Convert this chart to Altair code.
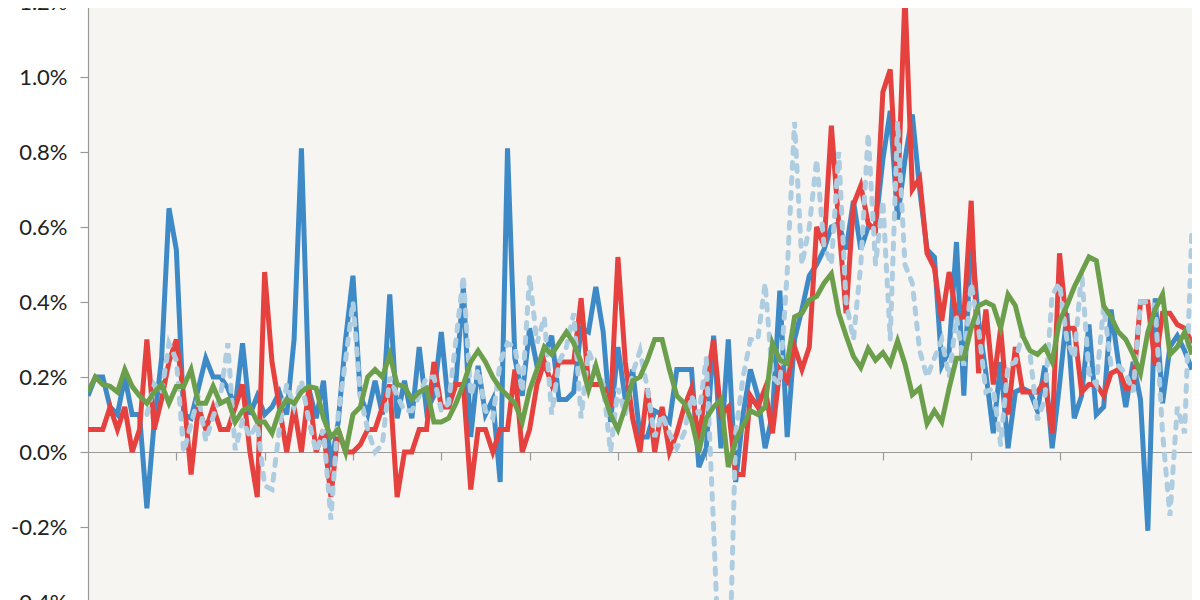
import altair as alt
import pandas as pd

# monthly change, % (index 0 = first month shown)
series_a = [0.15,0.20,0.20,0.12,0.10,0.20,0.10,0.10,-0.15,0.08,
            0.25,0.65,0.54,0.10,0.09,0.17,0.25,0.20,0.20,0.17,
            0.12,0.29,0.10,0.15,0.10,0.12,0.16,0.10,0.30,0.81,
            0.17,0.09,0.19,-0.04,0.08,0.30,0.47,0.15,0.10,0.19,
            0.10,0.42,0.09,0.19,0.09,0.28,0.11,0.15,0.32,0.12,
            0.19,0.44,0.04,0.23,0.10,0.14,-0.08,0.81,0.25,0.15,
            0.33,0.23,0.26,0.31,0.14,0.14,0.16,0.33,0.32,0.44,
            0.32,0.08,0.28,0.14,0.22,0.04,0.04,0.11,0.10,0.08,
            0.22,0.22,0.22,-0.04,0.01,0.31,0.01,0.30,-0.08,0.10,
            0.22,0.15,0.01,0.10,0.43,0.04,0.30,0.38,0.47,0.50,
            0.54,0.60,0.61,0.54,0.67,0.54,0.60,0.60,0.78,0.91,
            0.62,0.78,0.90,0.70,0.54,0.52,0.23,0.27,0.56,0.15,
            0.58,0.35,0.21,0.05,0.24,0.01,0.16,0.17,0.16,0.11,
            0.23,0.01,0.18,0.37,0.09,0.15,0.34,0.10,0.12,0.38,
            0.24,0.12,0.24,0.14,-0.21,0.41,0.13,0.28,0.31,0.27,
            0.22]

series_b = [0.06,0.06,0.06,0.12,0.06,0.12,0.00,0.06,0.30,0.06,
            0.14,0.24,0.30,0.15,-0.06,0.12,0.06,0.12,0.06,0.06,
            0.12,0.18,0.00,-0.12,0.48,0.24,0.12,0.00,0.12,0.00,
            0.17,0.00,0.06,-0.12,0.06,0.00,0.00,0.02,0.06,0.06,
            0.12,0.18,-0.12,0.00,0.00,0.06,0.06,0.24,0.12,0.12,
            0.18,0.18,-0.10,0.06,0.06,0.00,0.06,0.06,0.22,0.00,
            0.06,0.18,0.24,0.18,0.24,0.24,0.24,0.41,0.18,0.18,
            0.18,0.12,0.52,0.24,0.09,0.00,0.17,0.00,0.12,0.00,
            0.05,0.12,0.17,0.03,0.18,0.30,0.10,0.12,-0.06,-0.06,
            0.15,0.12,0.17,0.05,0.22,0.19,0.28,0.22,0.28,0.60,
            0.55,0.87,0.61,0.37,0.66,0.71,0.61,0.59,0.96,1.02,
            0.67,1.22,0.70,0.73,0.53,0.49,0.35,0.48,0.36,0.36,
            0.67,0.21,0.38,0.18,0.33,0.10,0.28,0.16,0.16,0.16,
            0.19,0.05,0.53,0.33,0.33,0.16,0.18,0.18,0.15,0.21,
            0.22,0.17,0.17,0.40,0.40,0.23,0.37,0.37,0.34,0.33,
            0.29]

series_c = [0.16,0.20,0.18,0.175,0.16,0.22,0.175,0.15,0.13,0.16,
            0.18,0.13,0.175,0.175,0.22,0.13,0.13,0.175,0.13,0.14,
            0.08,0.11,0.12,0.08,0.08,0.05,0.11,0.14,0.13,0.16,
            0.175,0.17,0.09,0.04,0.06,0.00,0.10,0.12,0.20,0.22,
            0.20,0.26,0.18,0.175,0.14,0.16,0.17,0.08,0.08,0.09,
            0.13,0.18,0.24,0.27,0.24,0.20,0.17,0.15,0.13,0.08,
            0.165,0.22,0.28,0.26,0.29,0.32,0.29,0.24,0.165,0.23,
            0.16,0.10,0.06,0.12,0.19,0.20,0.245,0.30,0.30,0.22,
            0.15,0.13,0.085,0.00,0.09,0.12,0.14,-0.04,0.03,0.07,
            0.11,0.10,0.12,0.29,0.245,0.236,0.36,0.37,0.405,0.415,
            0.45,0.475,0.37,0.31,0.255,0.225,0.276,0.245,0.265,0.235,
            0.296,0.235,0.153,0.17,0.076,0.11,0.08,0.17,0.25,0.25,
            0.33,0.39,0.40,0.39,0.33,0.42,0.39,0.31,0.27,0.26,
            0.28,0.24,0.35,0.39,0.44,0.48,0.52,0.51,0.39,0.36,
            0.32,0.30,0.26,0.21,0.32,0.38,0.42,0.26,0.28,0.32,
            0.26]

series_d = [None,None,None,None,None,None,None,None,0.10,0.18,
            0.156,0.29,0.245,0.00,0.075,0.15,0.03,0.094,0.15,0.29,
            0.005,0.085,0.04,0.076,-0.09,-0.10,0.06,0.18,0.12,0.19,
            0.085,0.00,0.06,-0.18,0.10,0.245,0.40,0.15,0.06,0.00,
            0.02,0.20,0.15,0.11,0.11,0.15,0.20,0.20,0.11,0.13,
            0.30,0.47,0.15,0.22,0.11,0.09,0.24,0.29,0.28,0.16,
            0.47,0.29,0.36,0.10,0.24,0.28,0.37,0.09,0.27,0.22,
            0.18,0.00,0.17,0.10,0.21,0.27,0.17,0.04,0.10,0.05,
            0.01,0.05,0.15,0.10,0.25,-0.20,-0.70,-0.70,0.05,0.20,
            0.30,0.30,0.45,0.20,0.18,0.48,0.88,0.50,0.60,0.78,
            0.55,0.50,0.80,0.40,0.30,0.50,0.85,0.50,0.67,0.30,
            0.88,0.50,0.45,0.27,0.20,0.25,0.30,0.20,0.36,0.23,
            0.45,0.33,0.16,0.17,0.02,0.23,0.24,0.32,0.26,0.085,
            0.14,0.42,0.45,0.30,0.25,0.48,0.21,0.18,0.39,0.23,
            0.23,0.21,0.16,0.40,0.40,0.39,0.05,-0.17,0.12,0.05,
            0.60]

year_ticks = [12, 24, 36, 48, 60, 72, 84, 96, 108, 120, 132, 144]
y_ticks = [-0.4, -0.2, 0.0, 0.2, 0.4, 0.6, 0.8, 1.0, 1.2]

def frame(vals):
    rows = [(i, v) for i, v in enumerate(vals) if v is not None]
    return pd.DataFrame(rows, columns=["m", "v"])

x_enc = alt.X("m:Q", scale=alt.Scale(domain=[0, 150], nice=False, zero=False),
              axis=alt.Axis(values=year_ticks, labels=False, title=None, grid=False,
                            offset=-150, tickSize=8, domainColor="#9a9a9a",
                            tickColor="#9a9a9a", domainWidth=1.2, tickWidth=1.2))
y_enc = alt.Y("v:Q", scale=alt.Scale(domain=[-0.4, 1.2], nice=False, zero=False),
              axis=alt.Axis(values=y_ticks, title=None, grid=False, tickSize=8,
                            labelPadding=13, labelFontSize=22, labelColor="#222222",
                            labelFont="Lato", domainColor="#9a9a9a", tickColor="#9a9a9a",
                            domainWidth=1.2, tickWidth=1.2,
                            labelExpr="(datum.value < -0.0001 ? '-' : '') + format(abs(datum.value), '.1f') + '%'"))

def line(vals, color, dash=None):
    kw = dict(color=color, strokeWidth=5, clip=True)
    if dash:
        kw.update(strokeDash=dash, strokeCap="round")
    return alt.Chart(frame(vals)).mark_line(**kw).encode(x=x_enc, y=y_enc)

chart = alt.layer(
    line(series_a, "#3d8ac6"),
    line(series_b, "#e5413e"),
    line(series_d, "#aecde1", dash=[6, 9]),
    line(series_c, "#6c9f4b"),
).properties(
    width=1104, height=600,
    padding={"left": 80, "top": -6, "right": 0, "bottom": -2},
    autosize=alt.AutoSizeParams(type="none"),
    background="#ffffff",
).configure_view(fill="#f7f5f2", stroke=None)

chart.save("out.html", embed_options={"renderer": "svg", "actions": False})
